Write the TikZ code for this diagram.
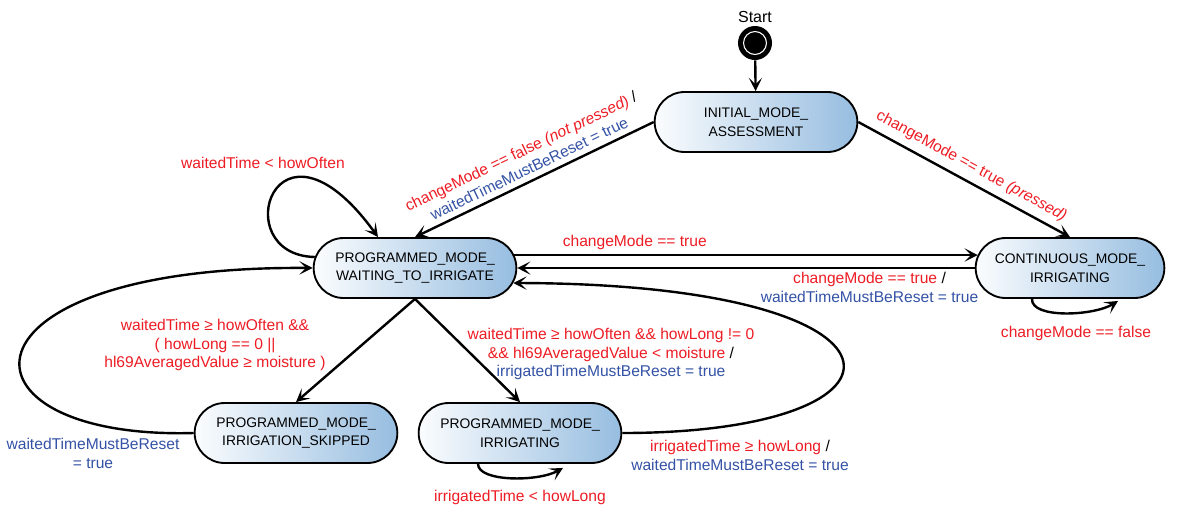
\documentclass[tikz,border=0pt]{standalone}
\usepackage{fontspec}
\setmainfont{Liberation Sans}
\usetikzlibrary{arrows.meta,shapes.misc,calc,positioning}
\definecolor{condred}{RGB}{237,28,36}
\definecolor{actblue}{RGB}{52,82,165}
\definecolor{stateblue}{RGB}{150,189,224}
\newcommand{\cond}[1]{\textcolor{condred}{#1}}
\newcommand{\act}[1]{\textcolor{actblue}{#1}}

\begin{document}
\begin{tikzpicture}[x=0.75pt, y=-0.75pt, >={Stealth[length=10pt, width=10pt, inset=5pt]},
    state/.style={rounded rectangle, draw, line width=1.4pt, left color=white!96!stateblue, right color=stateblue,
                  minimum width=156pt, minimum height=45pt, inner sep=2pt, align=center,
                  font=\fontsize{10.4}{14.2}\selectfont},
    trans/.style={->, line width=1.8pt},
    lbl/.style={inner sep=1pt, align=center, font=\fontsize{11.7}{14.2}\selectfont}]
  \useasboundingbox (0,0) rectangle (1180,508);
  % start
  \node[font=\fontsize{12}{14}\selectfont] (startlbl) at (755,17) {Start};
  \node[circle, fill=black, minimum size=25.5pt, inner sep=0pt] (start) at (755,43) {};
  \draw[white, line width=0.8pt] (start.center) circle (8.6pt);
  % states
  \node[state] (init) at (756,122) {INITIAL\_MODE\_\\ASSESSMENT};
  \node[state] (wait) at (415,268) {PROGRAMMED\_MODE\_\\WAITING\_TO\_IRRIGATE};
  \node[state, minimum width=145.5pt] (cont) at (1070,268) {CONTINUOUS\_MODE\_\\IRRIGATING};
  \node[state] (skip) at (296,433) {PROGRAMMED\_MODE\_\\IRRIGATION\_SKIPPED};
  \node[state] (irr) at (520,433) {PROGRAMMED\_MODE\_\\IRRIGATING};
  % transitions from the initial state
  \draw[trans] (start) -- (init);
  \draw[trans] (init.west) -- node[lbl, sloped, above=3pt] (lfalse)
       {\cond{changeMode == false \textit{(not pressed)}} /\\\act{waitedTimeMustBeReset = true}} (wait.north);
  \draw[trans] (init.east) -- node[lbl, sloped, above=4pt] (ltrue)
       {\cond{changeMode == true \textit{(pressed)}}} (cont.north);
  % programmed <-> continuous
  \draw[trans] ($(wait.east)+(-3,-13)$) -- node[lbl, above=2pt, pos=0.26] (ltocont)
       {\cond{changeMode == true}} ($(cont.west)+(3,-13)$);
  \draw[trans] (cont.west) -- node[lbl, below=1pt, pos=0.23] (ltowait)
       {\cond{changeMode == true} /\\\act{waitedTimeMustBeReset = true}} (wait.east);
  \draw[trans] ($(cont.south)+(-38,0)$) .. controls +(-1,20) and +(-24,15) .. ($(cont.south)+(48,2)$);
  \node[lbl] (lcontloop) at (1076,333) {\cond{changeMode == false}};
  % waiting loop
  \draw[trans] ($(wait.west)+(2,-11)$) .. controls (225,255) and (275,95) .. ($(wait.north)+(-37,0)$);
  \node[lbl] (lwaitloop) at (263,163) {\cond{waitedTime < howOften}};
  % waiting -> skipped / irrigating
  \draw[trans] (wait.south) -- (skip.north);
  \node[lbl] (lskip) at (215,345)
       {\cond{waitedTime ≥ howOften \&\&}\\\cond{( howLong == 0 ||}\\\cond{hl69AveragedValue ≥ moisture )}};
  \draw[trans] (wait.south) -- (irr.north);
  \node[lbl] (lirr) at (611,354)
       {\cond{waitedTime ≥ howOften \&\& howLong != 0}\\\cond{\&\& hl69AveragedValue < moisture} /\\\act{irrigatedTimeMustBeReset = true}};
  % back to waiting
  \draw[trans] (skip.west) .. controls (-55,440) and (-55,265) .. (wait.west);
  \node[lbl] (lskipback) at (93,453) {\act{waitedTimeMustBeReset}\\\act{= true}};
  \draw[trans] (irr.east) .. controls (933,433) and (933,284) .. ($(wait.east)+(-4,15)$);
  \node[lbl] (lirrback) at (740,455) {\cond{irrigatedTime ≥ howLong} /\\\act{waitedTimeMustBeReset = true}};
  % irrigating loop
  \draw[trans] ($(irr.south)+(-42,0)$) .. controls +(0,18) and +(-25,14) .. ($(irr.south)+(43,4)$);
  \node[lbl] (lirrloop) at (520,497) {\cond{irrigatedTime < howLong}};
\end{tikzpicture}
\end{document}
